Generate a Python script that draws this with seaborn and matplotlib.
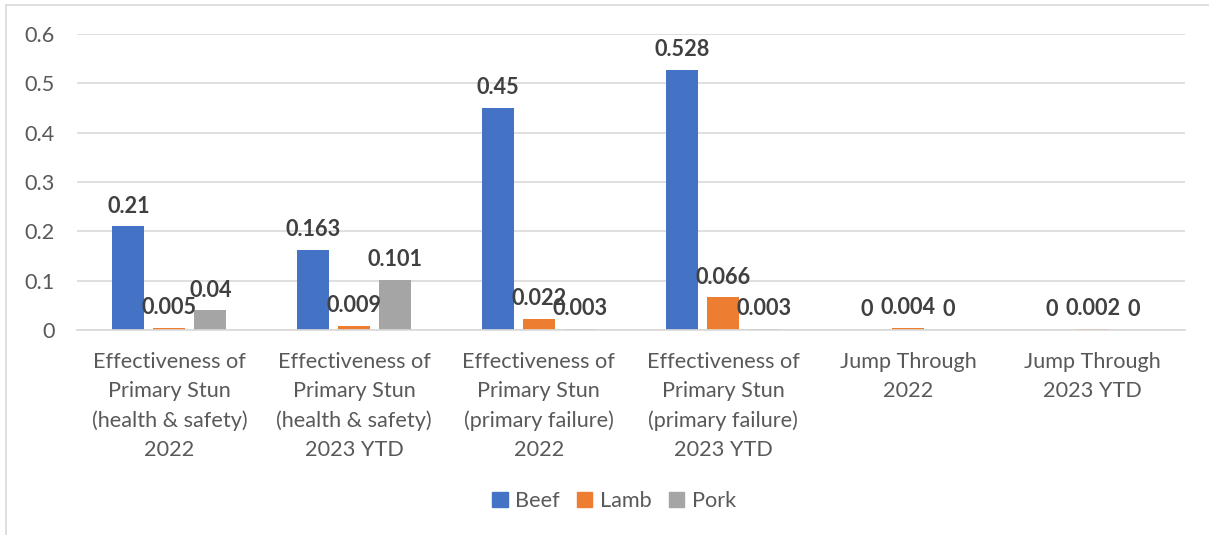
import matplotlib
matplotlib.use("Agg")
import matplotlib.pyplot as plt
from matplotlib.lines import Line2D
import seaborn as sns
import pandas as pd

# Inspection categories and species rates
categories = [
    "Effectiveness of\nPrimary Stun\n(health & safety)\n2022",
    "Effectiveness of\nPrimary Stun\n(health & safety)\n2023 YTD",
    "Effectiveness of\nPrimary Stun\n(primary failure)\n2022",
    "Effectiveness of\nPrimary Stun\n(primary failure)\n2023 YTD",
    "Jump Through\n2022",
    "Jump Through\n2023 YTD",
]
species = ["Beef", "Lamb", "Pork"]
beef = [0.21, 0.163, 0.45, 0.528, 0, 0]
lamb = [0.005, 0.009, 0.022, 0.066, 0.004, 0.002]
pork = [0.04, 0.101, 0.003, 0.003, 0, 0]
colors = ["#4472C4", "#ED7D31", "#A5A5A5"]
y_ticks = [0, 0.1, 0.2, 0.3, 0.4, 0.5, 0.6]

rows = []
for name, vals in zip(species, [beef, lamb, pork]):
    for cat, v in zip(categories, vals):
        rows.append({"Category": cat, "Animal": name, "Rate": v})
df = pd.DataFrame(rows)

sns.set_theme(style="white")
plt.rcParams["font.family"] = ["Lato", "DejaVu Sans"]

FS = 15.6

fig = plt.figure(figsize=(12.09, 5.35), dpi=100)
ax = fig.add_axes([0.0637, 0.3832, 0.9165, 0.5532])

sns.barplot(
    data=df, x="Category", y="Rate", hue="Animal",
    order=categories, hue_order=species, palette=colors, saturation=1,
    width=0.666, gap=0.22, errorbar=None, linewidth=0, ax=ax,
)

for cont, vals in zip(ax.containers, [beef, lamb, pork]):
    ax.bar_label(cont, labels=[f"{v:g}" for v in vals], padding=7,
                 fontsize=FS, fontweight="bold", color="#404040")

ax.set_ylim(0, 0.6)
ax.set_yticks(y_ticks)
ax.set_yticklabels([f"{t:g}" for t in y_ticks])
ax.set_xlim(-0.5, len(categories) - 0.5)
ax.yaxis.grid(True, color="#D9D9D9", linewidth=1.2)
ax.set_axisbelow(True)
for side in ["top", "right", "left"]:
    ax.spines[side].set_visible(False)
ax.spines["bottom"].set_color("#D9D9D9")
ax.spines["bottom"].set_linewidth(1.2)
ax.set_xlabel("")
ax.set_ylabel("")
ax.tick_params(axis="both", length=0, labelsize=FS, labelcolor="#595959")
ax.tick_params(axis="x", pad=16)
ax.tick_params(axis="y", pad=16)
for lbl in ax.get_xticklabels():
    lbl.set_linespacing(1.55)

handles = [plt.Rectangle((0, 0), 1, 1, color=c) for c in colors]
ax.legend(handles, species, loc="center", bbox_to_anchor=(0.508, 0.063),
          bbox_transform=fig.transFigure, ncol=3, frameon=False,
          fontsize=FS, labelcolor="#595959", handlelength=0.7,
          handleheight=0.7, handletextpad=0.35, columnspacing=0.8)

# Chart frame edges
fig.add_artist(Line2D([6 / 1209, 1], [1 - 5 / 535, 1 - 5 / 535],
                      transform=fig.transFigure, color="#D9D9D9", lw=1.2))
fig.add_artist(Line2D([6 / 1209, 6 / 1209], [0, 1 - 5 / 535],
                      transform=fig.transFigure, color="#D9D9D9", lw=1.2))

fig.savefig("out.png", dpi=100)
